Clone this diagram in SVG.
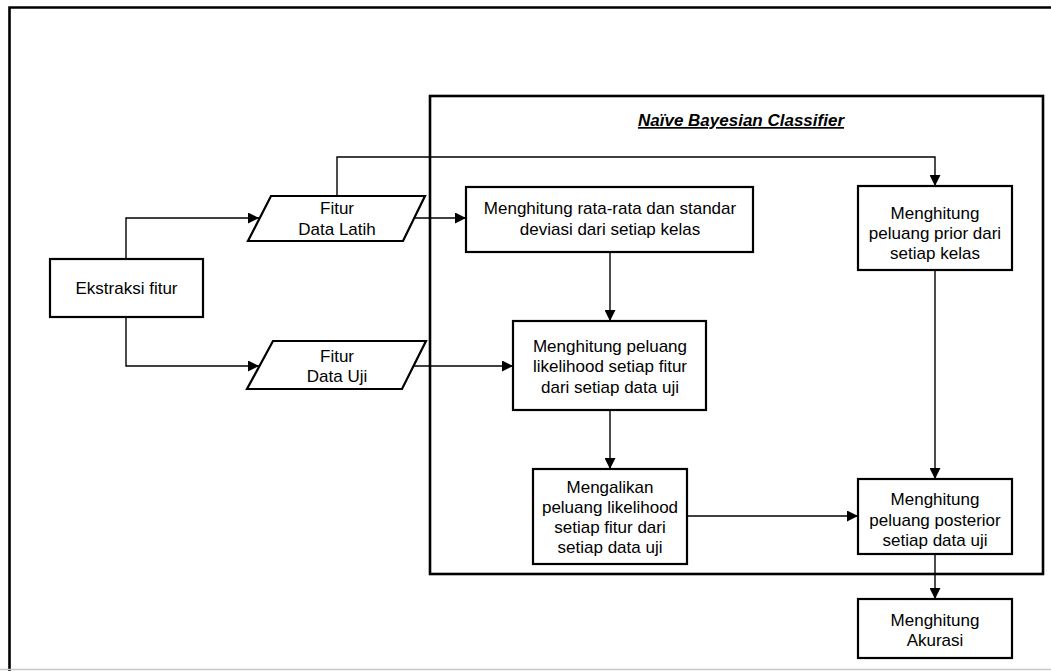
<svg xmlns="http://www.w3.org/2000/svg" width="1051" height="671" viewBox="0 0 1051 671">
<defs>
<style>
.box{fill:#fff;stroke:#000;stroke-width:2.2}
.cont{fill:none;stroke:#000;stroke-width:2.6}
.conn{fill:none;stroke:#000;stroke-width:1.4}
text{font-family:"Liberation Sans",Arial,sans-serif;font-size:17px;fill:#000;text-anchor:middle}
.title{font-size:17px;font-weight:bold;font-style:italic;text-decoration:underline}
</style>
<marker id="arr" viewBox="0 0 11 11" refX="11" refY="5.5" markerWidth="11" markerHeight="11" markerUnits="userSpaceOnUse" orient="auto">
<path d="M0,0 L11,5.5 L0,11 z" fill="#000"/>
</marker>
</defs>
<rect width="1051" height="671" fill="#fff"/>
<path d="M9.5,671 V7.5 H1051" fill="none" stroke="#000" stroke-width="2.6"/>
<line x1="0" y1="669.5" x2="1051" y2="669.5" stroke="#c8c8c8" stroke-width="1.5"/>

<g id="container">
<rect class="cont" x="430" y="96" width="613" height="478"/>
<text class="title" x="741" y="126">Naïve Bayesian Classifier</text>
</g>

<g id="connectors">
<path class="conn" d="M126,259 V218 H259" marker-end="url(#arr)"/>
<path class="conn" d="M126,317 V366 H259" marker-end="url(#arr)"/>
<path class="conn" d="M337,196 V157 H935 V186" marker-end="url(#arr)"/>
<path class="conn" d="M414,218 H466" marker-end="url(#arr)"/>
<path class="conn" d="M414,366 H513" marker-end="url(#arr)"/>
<path class="conn" d="M610,252 V321" marker-end="url(#arr)"/>
<path class="conn" d="M610,410 V469" marker-end="url(#arr)"/>
<path class="conn" d="M687,516 H858" marker-end="url(#arr)"/>
<path class="conn" d="M935,270 V479" marker-end="url(#arr)"/>
<path class="conn" d="M935,554 V599" marker-end="url(#arr)"/>
</g>

<g id="ekstraksi">
<rect class="box" x="50" y="259" width="153" height="58"/>
<text x="126.5" y="294">Ekstraksi fitur</text>
</g>

<g id="fitur-latih">
<polygon class="box" points="271,196 425,196 403,241 248,241"/>
<text x="337" y="214">Fitur</text>
<text x="337" y="235">Data Latih</text>
</g>

<g id="fitur-uji">
<polygon class="box" points="273,341 426,341 402,389 247,389"/>
<text x="337" y="362">Fitur</text>
<text x="337" y="382">Data Uji</text>
</g>

<g id="rata-rata">
<rect class="box" x="466" y="187" width="287" height="65"/>
<text x="610" y="214">Menghitung rata-rata dan standar</text>
<text x="610" y="235">deviasi dari setiap kelas</text>
</g>

<g id="prior">
<rect class="box" x="858" y="186" width="154" height="84"/>
<text x="935" y="219">Menghitung</text>
<text x="935" y="239">peluang prior dari</text>
<text x="935" y="259">setiap kelas</text>
</g>

<g id="likelihood">
<rect class="box" x="513" y="321" width="193" height="89"/>
<text x="610" y="352">Menghitung peluang</text>
<text x="610" y="372">likelihood setiap fitur</text>
<text x="610" y="393">dari setiap data uji</text>
</g>

<g id="mengalikan">
<rect class="box" x="533" y="469" width="154" height="95"/>
<text x="610" y="493">Mengalikan</text>
<text x="610" y="513">peluang likelihood</text>
<text x="610" y="533">setiap fitur dari</text>
<text x="610" y="553">setiap data uji</text>
</g>

<g id="posterior">
<rect class="box" x="858" y="479" width="154" height="75"/>
<text x="935" y="505">Menghitung</text>
<text x="935" y="526">peluang posterior</text>
<text x="935" y="546">setiap data uji</text>
</g>

<g id="akurasi">
<rect class="box" x="858" y="599" width="154" height="59"/>
<text x="935" y="626">Menghitung</text>
<text x="935" y="646">Akurasi</text>
</g>
</svg>
